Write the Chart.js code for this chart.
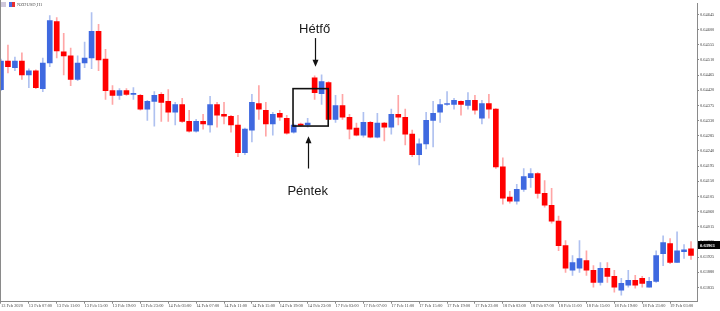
<!DOCTYPE html>
<html><head><meta charset="utf-8">
<script src="https://cdn.jsdelivr.net/npm/chart.js@4/dist/chart.umd.min.js"></script>
<style>html,body{margin:0;padding:0;background:#fff;overflow:hidden}</style>
</head><body>
<canvas id="c" width="720" height="311"></canvas>
<script>
const symbolTitle = "NZDUSD,H1";
const timeLabels = ["13 Feb 2020","13 Feb 07:00","13 Feb 11:00","13 Feb 15:00","13 Feb 19:00","13 Feb 23:00",
 "14 Feb 03:00","14 Feb 07:00","14 Feb 11:00","14 Feb 15:00","14 Feb 19:00","14 Feb 23:00",
 "17 Feb 03:00","17 Feb 07:00","17 Feb 11:00","17 Feb 15:00","17 Feb 19:00","17 Feb 23:00",
 "18 Feb 03:00","18 Feb 07:00","18 Feb 11:00","18 Feb 15:00","18 Feb 19:00","18 Feb 23:00","19 Feb 03:00"];
const opens = [0.64422,0.64507,0.64487,0.64507,0.64466,0.64478,0.64425,0.64501,0.64624,0.64534,
 0.64522,0.64452,0.64501,0.64516,0.64595,0.64513,0.64419,0.64405,0.64419,0.64408,
 0.64405,0.64364,0.64387,0.64408,0.64387,0.64355,0.64378,0.64328,0.64299,0.64328,
 0.64317,0.64378,0.64349,0.64343,0.64317,0.64235,0.64302,0.64381,0.64361,0.64320,
 0.64352,0.64337,0.64296,0.64320,0.64317,0.64457,0.64410,0.64443,0.64334,0.64375,
 0.64340,0.64308,0.64287,0.64325,0.64281,0.64323,0.64311,0.64349,0.64340,0.64290,
 0.64229,0.64261,0.64331,0.64355,0.64378,0.64378,0.64387,0.64375,0.64390,0.64337,
 0.64381,0.64364,0.64193,0.64103,0.64091,0.64126,0.64161,0.64173,0.64114,0.64079,
 0.64032,0.63959,0.63886,0.63892,0.63915,0.63886,0.63850,0.63892,0.63868,0.63827,
 0.63842,0.63856,0.63862,0.63836,0.63853,0.63935,0.63965,0.63909,0.63941,0.63950];
const highs = [0.64513,0.64554,0.64519,0.64531,0.64484,0.64481,0.64516,0.64642,0.64636,0.64589,
 0.64545,0.64522,0.64563,0.64651,0.64616,0.64542,0.64434,0.64425,0.64425,0.64428,
 0.64408,0.64390,0.64416,0.64413,0.64422,0.64384,0.64396,0.64361,0.64334,0.64349,
 0.64402,0.64384,0.64384,0.64346,0.64346,0.64308,0.64408,0.64434,0.64384,0.64355,
 0.64361,0.64346,0.64320,0.64323,0.64337,0.64463,0.64466,0.64446,0.64405,0.64408,
 0.64349,0.64323,0.64355,0.64328,0.64352,0.64325,0.64364,0.64405,0.64364,0.64302,
 0.64276,0.64355,0.64387,0.64393,0.64416,0.64396,0.64389,0.64413,0.64405,0.64390,
 0.64408,0.64366,0.64220,0.64120,0.64141,0.64188,0.64188,0.64176,0.64152,0.64129,
 0.64047,0.63974,0.63930,0.63974,0.63944,0.63900,0.63909,0.63909,0.63886,0.63862,
 0.63886,0.63871,0.63868,0.63865,0.63944,0.63988,0.63980,0.64000,0.63962,0.63971];
const lows = [0.64419,0.64472,0.64478,0.64452,0.64428,0.64425,0.64416,0.64490,0.64516,0.64466,
 0.64434,0.64449,0.64487,0.64484,0.64478,0.64393,0.64378,0.64393,0.64405,0.64393,
 0.64361,0.64331,0.64314,0.64328,0.64328,0.64317,0.64325,0.64296,0.64296,0.64305,
 0.64296,0.64311,0.64320,0.64296,0.64223,0.64229,0.64267,0.64334,0.64284,0.64287,
 0.64331,0.64290,0.64293,0.64314,0.64311,0.64393,0.64378,0.64334,0.64325,0.64334,
 0.64276,0.64285,0.64281,0.64279,0.64279,0.64270,0.64290,0.64317,0.64258,0.64223,
 0.64199,0.64246,0.64252,0.64325,0.64375,0.64364,0.64346,0.64364,0.64349,0.64320,
 0.64337,0.64188,0.64082,0.64085,0.64082,0.64120,0.64132,0.64100,0.64073,0.64026,
 0.63944,0.63880,0.63871,0.63880,0.63871,0.63836,0.63842,0.63850,0.63821,0.63812,
 0.63836,0.63833,0.63836,0.63836,0.63850,0.63900,0.63906,0.63909,0.63921,0.63918];
const closes = [0.64507,0.64490,0.64507,0.64466,0.64478,0.64428,0.64501,0.64627,0.64537,0.64522,
 0.64452,0.64501,0.64516,0.64595,0.64510,0.64419,0.64405,0.64419,0.64408,0.64410,
 0.64364,0.64387,0.64405,0.64384,0.64355,0.64378,0.64328,0.64299,0.64328,0.64320,
 0.64378,0.64346,0.64343,0.64317,0.64235,0.64305,0.64384,0.64364,0.64320,0.64349,
 0.64340,0.64293,0.64317,0.64316,0.64323,0.64413,0.64446,0.64334,0.64375,0.64340,
 0.64305,0.64287,0.64325,0.64281,0.64323,0.64311,0.64349,0.64340,0.64290,0.64229,
 0.64261,0.64331,0.64352,0.64378,0.64381,0.64390,0.64378,0.64390,0.64361,0.64381,
 0.64364,0.64193,0.64100,0.64091,0.64126,0.64164,0.64173,0.64114,0.64079,0.64032,
 0.63959,0.63892,0.63909,0.63921,0.63886,0.63850,0.63892,0.63868,0.63836,0.63847,
 0.63856,0.63842,0.63847,0.63853,0.63930,0.63968,0.63909,0.63944,0.63947,0.63930];
const priceTicks = [0.63835,0.63880,0.63925,0.63970,0.64015,0.64060,0.64105,0.64150,0.64195,0.64240,
 0.64285,0.64330,0.64375,0.64420,0.64465,0.64510,0.64555,0.64600,0.64645];
const bidPrice = 0.63961;
const mondayLabel = "Hétfő";
const fridayLabel = "Péntek";

const UP = '#3F69E0', DOWN = '#FF0000', UPW = '#AFC1F0', DOWNW = '#FFA6A6';
const isUp = opens.map((o,i)=>closes[i] >= o);

const wickData = lows.map((l,i)=>({x:i, y:[l, highs[i]]}));
const bodyData = opens.map((o,i)=>({x:i, y:[o, closes[i]]}));

const overlay = {
  id:'overlay',
  afterDatasetsDraw(chart){
    const ctx = chart.ctx, xs = chart.scales.x, ys = chart.scales.y, ca = chart.chartArea;
    ctx.save();
    // left border
    ctx.strokeStyle = '#8a8a8a'; ctx.lineWidth = 1;
    ctx.beginPath(); ctx.moveTo(0.5, 0); ctx.lineTo(0.5, ca.bottom); ctx.stroke();
    // title icons + text
    ctx.fillStyle = '#cfc8dc'; ctx.fillRect(1, 2, 5, 5);
    ctx.fillStyle = '#4a6be0'; ctx.fillRect(9, 2, 3, 5);
    ctx.fillStyle = '#e83030'; ctx.fillRect(12, 2, 3, 5);
    ctx.fillStyle = '#555'; ctx.font = '4.6px "Liberation Serif"'; ctx.textBaseline = 'middle'; ctx.textAlign='left';
    ctx.fillText(symbolTitle, 17, 4.6);
    // bid box
    const by = ys.getPixelForValue(bidPrice);
    ctx.fillStyle = '#000'; ctx.fillRect(ca.right + 1, by - 4, 22, 8);
    ctx.fillStyle = '#fff'; ctx.font = 'bold 4.6px "Liberation Serif"'; ctx.textAlign = 'left';
    ctx.fillText(bidPrice.toFixed(5), ca.right + 3, by + 0.3);
    // annotation box
    ctx.strokeStyle = '#111'; ctx.lineWidth = 1.6;
    const x1 = xs.getPixelForValue(41.9), x2 = xs.getPixelForValue(46.95);
    const y1 = ys.getPixelForValue(0.64425), y2 = ys.getPixelForValue(0.64314);
    ctx.strokeRect(x1, y1, x2 - x1, y2 - y1);
    // arrows
    function arrow(i, pFrom, pTip){
      const x = Math.round(xs.getPixelForValue(i)) + 0.5;
      const ya = ys.getPixelForValue(pFrom), yt = ys.getPixelForValue(pTip);
      const dir = yt > ya ? 1 : -1;
      ctx.strokeStyle = '#111'; ctx.lineWidth = 1.2;
      ctx.beginPath(); ctx.moveTo(x, ya); ctx.lineTo(x, yt - dir*5); ctx.stroke();
      ctx.fillStyle = '#111';
      ctx.beginPath(); ctx.moveTo(x, yt); ctx.lineTo(x - 3, yt - dir*7); ctx.lineTo(x + 3, yt - dir*7); ctx.closePath(); ctx.fill();
    }
    arrow(45, 0.64575, 0.64490);
    arrow(44, 0.64188, 0.64284);
    ctx.fillStyle = '#1a1a1a'; ctx.font = '13px "Liberation Sans"'; ctx.textAlign = 'center'; ctx.textBaseline = 'middle';
    ctx.fillText(mondayLabel, xs.getPixelForValue(45), ys.getPixelForValue(0.64601));
    ctx.fillText(fridayLabel, xs.getPixelForValue(44), ys.getPixelForValue(0.64120));
    ctx.restore();
  }
};

const tickFont = {family:'"Liberation Serif"', size:4.4};
new Chart(document.getElementById('c'), {
  type:'bar',
  data:{
    datasets:[
      {data:wickData, backgroundColor:isUp.map(u=>u?UPW:DOWNW), barThickness:1, grouped:false, order:2, borderWidth:0},
      {data:bodyData, backgroundColor:isUp.map(u=>u?UP:DOWN), barThickness:5, grouped:false, order:1, borderWidth:0, minBarLength:1}
    ]
  },
  options:{
    responsive:false, animation:false, devicePixelRatio:1,
    layout:{padding:0},
    plugins:{legend:{display:false}, tooltip:{enabled:false}},
    scales:{
      x:{
        type:'linear', offset:false, min:-0.14, max:99.86,
        afterBuildTicks(s){ s.ticks = timeLabels.map((_,k)=>({value:k*4})); },
        afterFit(s){ s.height = 9.3; },
        ticks:{autoSkip:false, maxRotation:0, minRotation:0, align:'start', padding:0, font:tickFont, color:'#444',
          callback:(v,idx)=>timeLabels[idx]},
        grid:{drawOnChartArea:false, drawTicks:true, tickLength:2, color:'#8a8a8a', offset:false},
        border:{display:true, color:'#8a8a8a'}
      },
      y:{
        type:'linear', position:'right', min:0.637928, max:0.646772,
        afterBuildTicks(s){ s.ticks = priceTicks.map(v=>({value:v})); },
        afterFit(s){ s.width = 23; },
        ticks:{padding:1, font:tickFont, color:'#444', callback:v=>v.toFixed(5)},
        grid:{drawOnChartArea:false, drawTicks:true, tickLength:2, color:'#8a8a8a'},
        border:{display:true, color:'#8a8a8a'}
      }
    }
  },
  plugins:[overlay]
});
</script>
</body></html>
